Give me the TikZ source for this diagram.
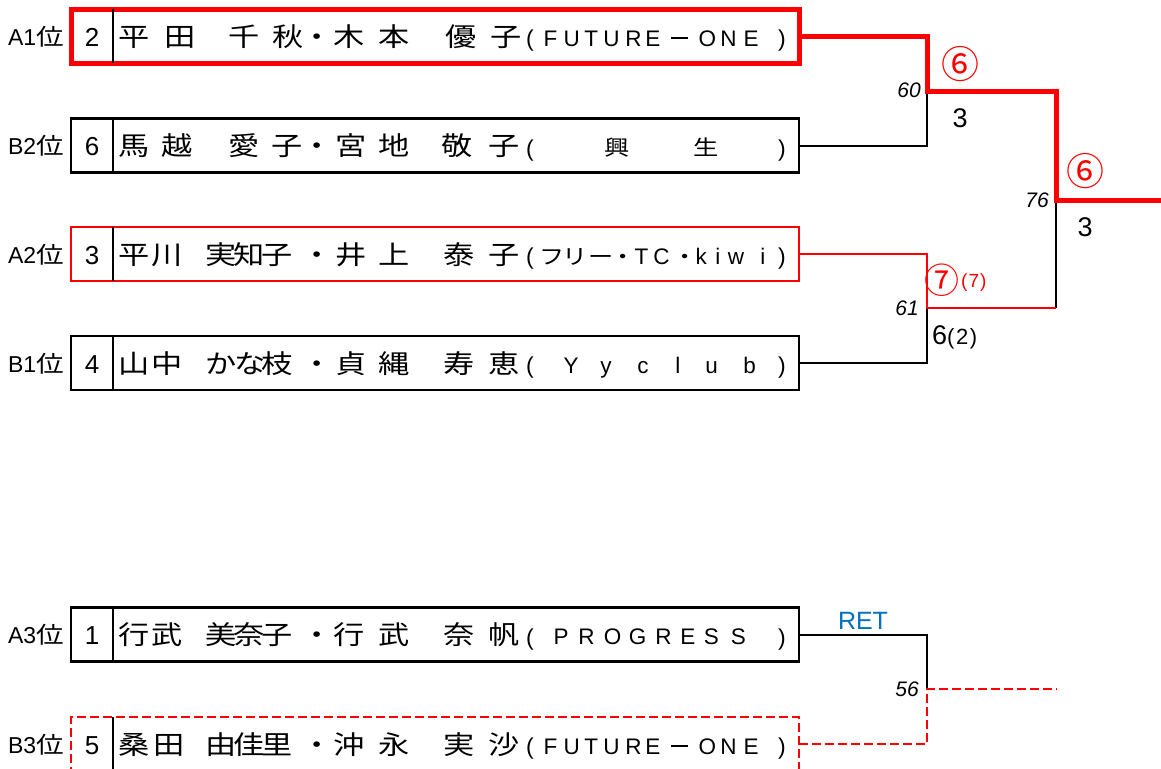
\documentclass[tikz,border=0pt]{standalone}
\usepackage{fontspec}
\setmainfont{Liberation Sans}
\newfontfamily\jp[FakeStretch=1.2]{Noto Sans CJK JP}
\newfontfamily\jpn{Noto Sans CJK JP}
\definecolor{xred}{RGB}{255,0,0}
\definecolor{xblue}{RGB}{0,112,192}
\newcommand\Jc[2]{\rlap{\hspace*{#1pt}\jp\fontsize{26}{26}\selectfont #2}}
\newcommand\Tj[2]{\rlap{\hspace*{#1pt}\jp\fontsize{21}{21}\selectfont #2}}
\newcommand\Tl[2]{\rlap{\hspace*{#1pt}\fontsize{22.5}{22.5}\selectfont #2}}
\newcommand\Tp[2]{\rlap{\hspace*{#1pt}\fontsize{23}{23}\selectfont\raisebox{-0.5pt}{#2}}}
\newcommand\Tdash[1]{\rlap{\hspace*{#1pt}\rule[7pt]{17pt}{2pt}}}
\begin{document}
\begin{tikzpicture}[x=1pt,y=-1pt,
  rowbox/.style={draw=black, line width=2.4pt, minimum width=728pt, minimum height=54pt, inner sep=0pt, outer sep=0pt},
  redbox/.style={rowbox, draw=xred, line width=5pt},
  redthinbox/.style={rowbox, draw=xred, line width=2.6pt},
  dashbox/.style={rowbox, draw=xred, line width=2.4pt, dash pattern=on 9pt off 4pt},
  divider/.style={draw=black, line width=2.4pt},
  txt/.style={inner sep=0pt, outer sep=0pt, anchor=base west},
  numtxt/.style={inner sep=0pt, anchor=base, font=\fontsize{26}{26}\selectfont},
  lbl/.style={inner sep=0pt, anchor=base east, font=\fontsize{23}{23}\selectfont},
  blk/.style={draw=black, line width=2pt},
  redthin/.style={draw=xred, line width=2pt},
  redthick/.style={draw=xred, line width=5pt},
  rdash/.style={draw=xred, line width=2.4pt, dash pattern=on 9pt off 4pt},
  score/.style={inner sep=0pt, font=\fontsize{27}{27}\selectfont},
  circ/.style={inner sep=0pt, text=xred, font=\jpn\fontsize{38}{38}\selectfont},
  gid/.style={inner sep=0pt, anchor=east, font=\itshape\fontsize{21}{21}\selectfont},
]
\useasboundingbox (0,0) rectangle (1161,768);

% row boxes
\node[redbox] (r1) at (435,36.5) {};
\node[rowbox] (r2) at (435,145.5) {};
\node[redthinbox] (r3) at (435,254) {};
\node[rowbox] (r4) at (435,363) {};
\node[rowbox] (r5) at (435,634.5) {};
\node[dashbox] (r6) at (435,744) {};
\foreach \r in {r1,r2,r3,r4,r5,r6}
  \draw[divider] ([xshift=42pt]\r.north west) -- ([xshift=42pt]\r.south west);

% position labels
\node[lbl] (l1) at (64,45.5) {A1{\jp 位}};
\node[lbl] (l2) at (64,154.5) {B2{\jp 位}};
\node[lbl] (l3) at (64,263) {A2{\jp 位}};
\node[lbl] (l4) at (64,372) {B1{\jp 位}};
\node[lbl] (l5) at (64,643.5) {A3{\jp 位}};
\node[lbl] (l6) at (64,753) {B3{\jp 位}};

% seed numbers
\node[numtxt] (n1) at (92,46.5) {2};
\node[numtxt] (n2) at (92,155.5) {6};
\node[numtxt] (n3) at (92,264) {3};
\node[numtxt] (n4) at (92,373) {4};
\node[numtxt] (n5) at (92,644.5) {1};
\node[numtxt] (n6) at (92,754) {5};

% names and teams
\node[txt] (t1) at (0,46.5) {\Jc{118}{平}\Jc{164}{田}\Jc{228}{千}\Jc{272}{秋}\Jc{301}{・}\Jc{333}{木}\Jc{378}{本}\Jc{445}{優}\Jc{490}{子}\Tp{525.5}{(}\Tl{543}{F}\Tl{563}{U}\Tl{584}{T}\Tl{603}{U}\Tl{625}{R}\Tl{645}{E}\Tdash{670}\Tl{698}{O}\Tl{720}{N}\Tl{743}{E}\Tp{777.5}{)}};
\node[txt] (t2) at (0,155.5) {\Jc{118}{馬}\Jc{161}{越}\Jc{228}{愛}\Jc{271}{子}\Jc{301}{・}\Jc{335}{宮}\Jc{378}{地}\Jc{441}{敬}\Jc{488}{子}\Tp{525.5}{(}\Tj{603.5}{興}\Tj{693.5}{生}\Tp{777.5}{)}};
\node[txt] (t3) at (0,264) {\Jc{118}{平}\Jc{151}{川}\Jc{205}{実}\Jc{233}{知}\Jc{261}{子}\Jc{301}{・}\Jc{335}{井}\Jc{378}{上}\Jc{443}{泰}\Jc{488}{子}\Tp{525.5}{(}\Tj{539}{フ}\Tj{562}{リ}\Tj{588}{ー}\Tj{610}{・}\Tl{634}{T}\Tl{653}{C}\Tj{672}{・}\Tl{695}{k}\Tl{715}{i}\Tl{727.5}{w}\Tl{760}{i}\Tp{777.5}{)}};
\node[txt] (t4) at (0,373) {\Jc{118}{山}\Jc{151}{中}\Jc{205}{か}\Jc{234}{な}\Jc{261}{枝}\Jc{301}{・}\Jc{335}{貞}\Jc{378}{縄}\Jc{443}{寿}\Jc{488}{恵}\Tp{525.5}{(}\Tl{563}{Y}\Tl{600}{y}\Tl{637}{c}\Tl{675}{l}\Tl{705}{u}\Tl{743}{b}\Tp{777.5}{)}};
\node[txt] (t5) at (0,644.5) {\Jc{118}{行}\Jc{151}{武}\Jc{205}{美}\Jc{233}{奈}\Jc{261}{子}\Jc{301}{・}\Jc{333}{行}\Jc{378}{武}\Jc{443}{奈}\Jc{488}{帆}\Tp{525.5}{(}\Tl{553}{P}\Tl{578}{R}\Tl{603.5}{O}\Tl{628.5}{G}\Tl{655}{R}\Tl{680}{E}\Tl{703.5}{S}\Tl{730.5}{S}\Tp{777.5}{)}};
\node[txt] (t6) at (0,754) {\Jc{118}{桑}\Jc{153}{田}\Jc{205}{由}\Jc{233}{佳}\Jc{261}{里}\Jc{301}{・}\Jc{333}{沖}\Jc{378}{永}\Jc{443}{実}\Jc{488}{沙}\Tp{525.5}{(}\Tl{543}{F}\Tl{563}{U}\Tl{584}{T}\Tl{603}{U}\Tl{625}{R}\Tl{645}{E}\Tdash{670}\Tl{698}{O}\Tl{720}{N}\Tl{743}{E}\Tp{777.5}{)}};

% junctions
\coordinate (j1) at (927,91);
\coordinate (j2) at (927,308);
\coordinate (k2) at (1056,308);
\coordinate (j3) at (1056,200);
\coordinate (w) at (1161,200);
\coordinate (j4) at (927,689);
\coordinate (e4) at (1057,689);

% connectors
\draw[blk] (r2.east) -| (j1);
\draw[blk] (r4.east) -| (j2);
\draw[blk] (k2) -- (j3);
\draw[blk] (r5.east) -| (j4);
\draw[redthin] (r3.east) -| (j2) -- (k2);
\draw[redthick] (r1.east) -| (j1) -| (j3) -- (w);
\draw[rdash] (r6.east) -| (j4) -- (e4);

% match labels
\node[gid] (g60) at (921,90) {60};
\node[gid] (g76) at (1049,200) {76};
\node[gid] (g61) at (919,308) {61};
\node[gid] (g56) at (919,689) {56};
\node[circ] (c1) at (960,64) {⑥};
\node[score] (s1) at (960,118) {3};
\node[circ] (c2) at (1085,171) {⑥};
\node[score] (s2) at (1085,227) {3};
\node[circ, font=\jpn\fontsize{35}{35}\selectfont] (c3) at (942,280) {⑦};
\node[inner sep=0pt, anchor=west, text=xred, font=\fontsize{19}{19}\selectfont] (c3b) at (961,283) {(\kern1pt7\kern1pt)};
\node[inner sep=0pt, anchor=west, font=\fontsize{27}{27}\selectfont] (s3) at (932,337) {6{\fontsize{22}{22}\selectfont(\kern1.5pt2\kern1.5pt)}};
\node[inner sep=0pt, text=xblue, font=\fontsize{25}{25}\selectfont] (ret) at (863,621) {RET};
\end{tikzpicture}
\end{document}
